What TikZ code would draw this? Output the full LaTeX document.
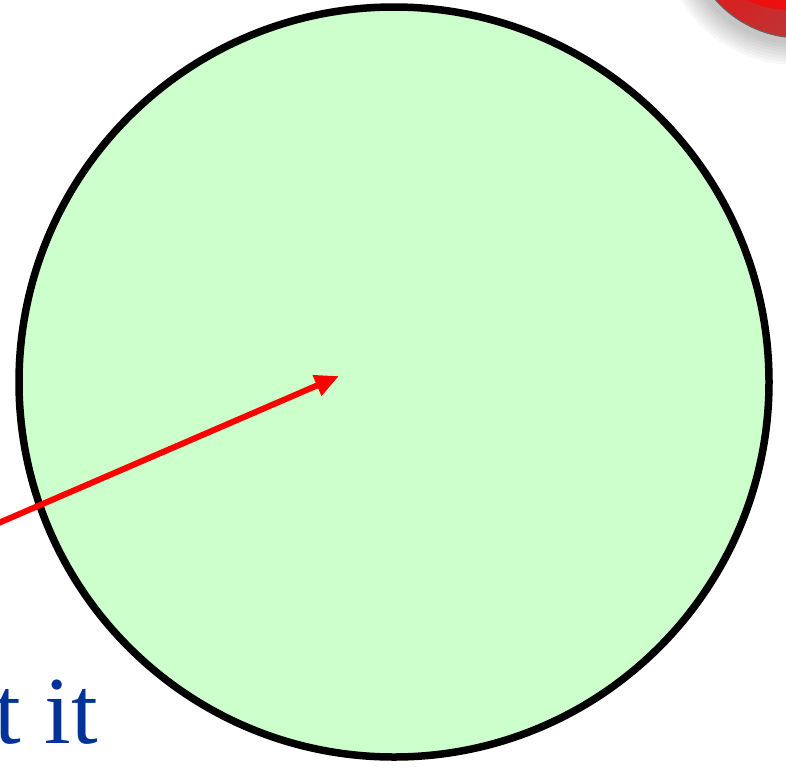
\documentclass[tikz,border=0pt]{standalone}
\usepackage{fontspec}
\setmainfont{Liberation Serif}
\usetikzlibrary{arrows.meta}
\definecolor{diskgreen}{RGB}{204,255,204}
\definecolor{textblue}{RGB}{0,51,153}
\definecolor{knobdark}{RGB}{175,65,65}
\begin{document}
\begin{tikzpicture}[x=1pt, y=-1pt]
    \useasboundingbox (0,0) rectangle (786,766);
    \clip (0,0) rectangle (786,766);
    % red knob in the corner, with its shadow
    \foreach \r in {0,...,7} {
        \fill[black, opacity=0.03] (796,-70) circle ({114+3*\r});
    }
    \shade[left color=red, right color=knobdark, shading angle=45, draw=gray!80!black, line width=1pt]
        (800,-75) circle (113);
    \shade[left color=red, right color=red!70!knobdark, shading angle=45]
        (790,-90) circle (100);
    % the disk
    \node[draw, circle, line width=7.5pt, fill=diskgreen, minimum size=750pt, inner sep=0pt]
        (disk) at (394,382) {};
    % arrow into the disk
    \coordinate (tail) at (-20,531);
    \coordinate (tip) at (339,376);
    \draw[red, line width=6pt, -{Triangle[length=24pt, width=21pt]}] (tail) -- (tip);
    \node[anchor=base west, text=textblue, font=\fontsize{96}{110}\selectfont, inner sep=0pt]
        (words) at (-6,743) {t it};
\end{tikzpicture}
\end{document}
